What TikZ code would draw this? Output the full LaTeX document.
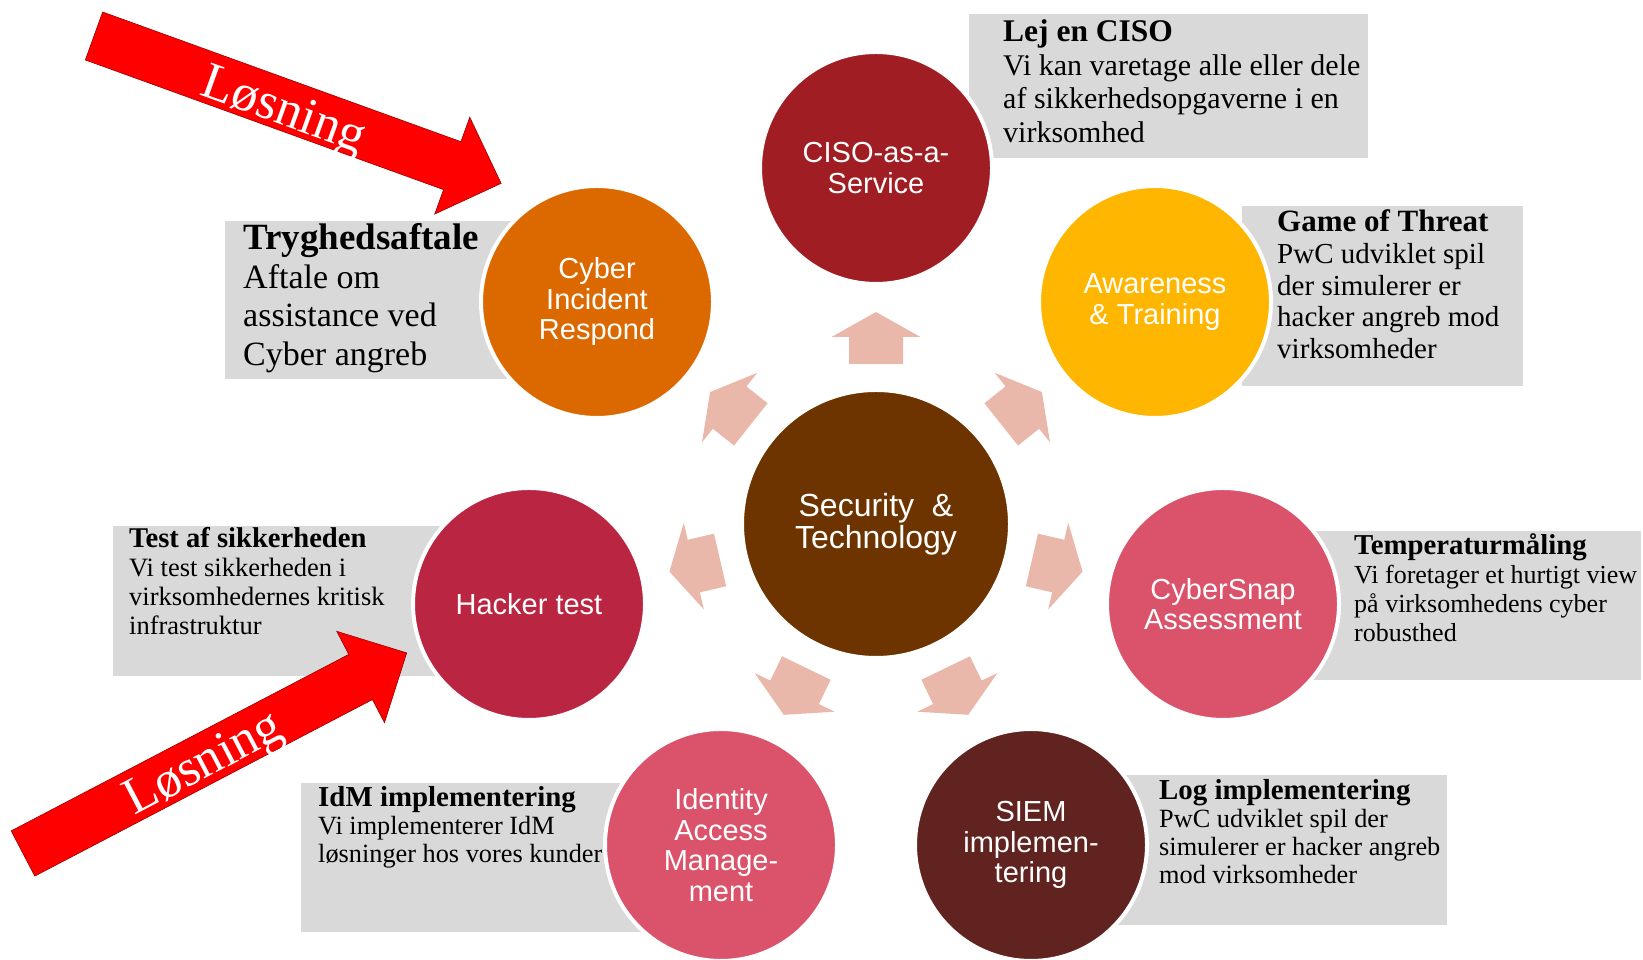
\documentclass[tikz,border=0pt]{standalone}
\usepackage{fontspec}
\setmainfont{Liberation Serif}
\setsansfont{Liberation Sans}
\usetikzlibrary{positioning}

\definecolor{boxgray}{RGB}{217,217,217}
\definecolor{hintpink}{RGB}{234,184,170}
\definecolor{coreBrown}{RGB}{110,52,0}
\definecolor{cisoRed}{RGB}{160,30,35}
\definecolor{pwcOrange}{RGB}{220,105,0}
\definecolor{pwcYellow}{RGB}{255,182,0}
\definecolor{pwcRose}{RGB}{219,83,106}
\definecolor{pwcCrimson}{RGB}{186,37,65}
\definecolor{siemBrown}{RGB}{96,35,32}

\tikzset{every picture/.style={
  x=1pt, y=1pt                  % One unit per pixel.
  }
}

\begin{document}
\begin{tikzpicture}[
      disc/.style={
        circle,
        draw=white,
        line width=4pt,
        fill=#1,
        minimum size=232pt,
        inner sep=0pt,
        text=white,
        align=center,
        font=\sffamily\fontsize{29}{30.5}\selectfont
      },
      infobox/.style={fill=boxgray},
      infotext/.style args={#1/#2}{
        anchor=base west,       % Baseline of the last line.
        inner sep=0pt,
        align=left,
        font=\fontsize{#1}{#2}\selectfont
      },
      hint/.style={fill=hintpink},
      losning/.style={fill=red, draw=red!60!black, line width=0.6pt},
      losningtext/.style={text=white, font=\fontsize{52}{52}\selectfont}]

      \useasboundingbox (0,0) rectangle (1643,960);

      % Draw the grey boxes behind the discs.
      \fill[infobox] (969,802) rectangle (1368,946);
      \fill[infobox] (1242,574) rectangle (1523,754);
      \fill[infobox] (225,581) rectangle (560,739);
      \fill[infobox] (113,284) rectangle (480,434);
      \fill[infobox] (1290,280) rectangle (1641,429);
      \fill[infobox] (301,28) rectangle (660,177);
      \fill[infobox] (1100,35) rectangle (1447,185);

      % Render the box texts.
      \def\hd#1#2{{\bfseries\fontsize{#1}{#1}\selectfont #2}} % Helper.

      \node[infotext=30/33.4] (cisotxt) at (1003,817.8)
        {\hd{31.5}{Lej en CISO}\\ Vi kan varetage alle eller dele\\
         af sikkerhedsopgaverne i en\\ virksomhed};
      \node[infotext=29/31.6] (awaretxt) at (1277,601.6)
        {\hd{31}{Game of Threat}\\ PwC udviklet spil\\ der simulerer er\\
         hacker angreb mod\\ virksomheder};
      \node[infotext=34/38.5] (inctxt) at (243,594.5)
        {\hd{37}{Tryghedsaftale}\\ Aftale om\\ assistance ved\\ Cyber angreb};
      \node[infotext=26.5/28.7] (hacktxt) at (129,325.9)
        {\hd{28.6}{Test af sikkerheden}\\ Vi test sikkerheden i\\
         virksomhedernes kritisk\\ infrastruktur};
      \node[infotext=26/29] (snaptxt) at (1354,318)
        {\hd{28.8}{Temperaturmåling}\\ Vi foretager et hurtigt view\\
         på virksomhedens cyber\\ robusthed};
      \node[infotext=26.3/28] (idmtxt) at (318,97)
        {\hd{28.9}{IdM implementering}\\ Vi implementerer IdM\\
         løsninger hos vores kunder};
      \node[infotext=26.3/27.8] (siemtxt) at (1159,76.6)
        {\hd{28.9}{Log implementering}\\ PwC udviklet spil der\\
         simulerer er hacker angreb\\ mod virksomheder};

      % Draw the discs.
      \node[disc=coreBrown, minimum size=268pt,
            font=\sffamily\fontsize{32}{32.5}\selectfont] (core) at (876,436)
        {Security~ \&\\ Technology};
      \node[disc=cisoRed] (ciso) at (876,792) {CISO-as-a-\\ Service};
      \node[disc=pwcYellow] (aware) at (1155,658) {Awareness\\ \& Training};
      \node[disc=pwcRose] (snap) at (1223,356) {CyberSnap\\ Assessment};
      \node[disc=siemBrown] (siem) at (1031,115) {SIEM\\ implemen-\\ tering};
      \node[disc=pwcRose] (idm) at (721,115) {Identity\\ Access\\ Manage-\\ ment};
      \node[disc=pwcCrimson] (hack) at (529,356) {Hacker test};
      \node[disc=pwcOrange] (inc) at (597,658) {Cyber\\ Incident\\ Respond};

      % Block arrows from the core to each disc.
      \foreach \a in {90,38.5,-13,-64.2,-115.8,-167,141.5}
        \fill[hint, shift={(core.center)}, rotate=\a]
          (160,27) -- (187,27) -- (187,44.5) -- (212,0)
          -- (187,-44.5) -- (187,-27) -- (160,-27) -- cycle;

      % The two red arrows.
      \def\bigarrow#1#2{ \draw[losning, shift={#1}, rotate=#2]
        (0,25.5) -- (381,25.5) -- (381,51.5) -- (433,0)
        -- (381,-51.5) -- (381,-25.5) -- (0,-25.5) -- cycle }; % Helper.

      \bigarrow{(94,924)}{-19.9};
      \bigarrow{(23,106.5)}{27.6};

      \node[losningtext, rotate=-19.9] (los1) at (283,847) {Løsning};
      \node[losningtext, rotate=27.6] (los2) at (205,194) {Løsning};

    \end{tikzpicture}
\end{document}
